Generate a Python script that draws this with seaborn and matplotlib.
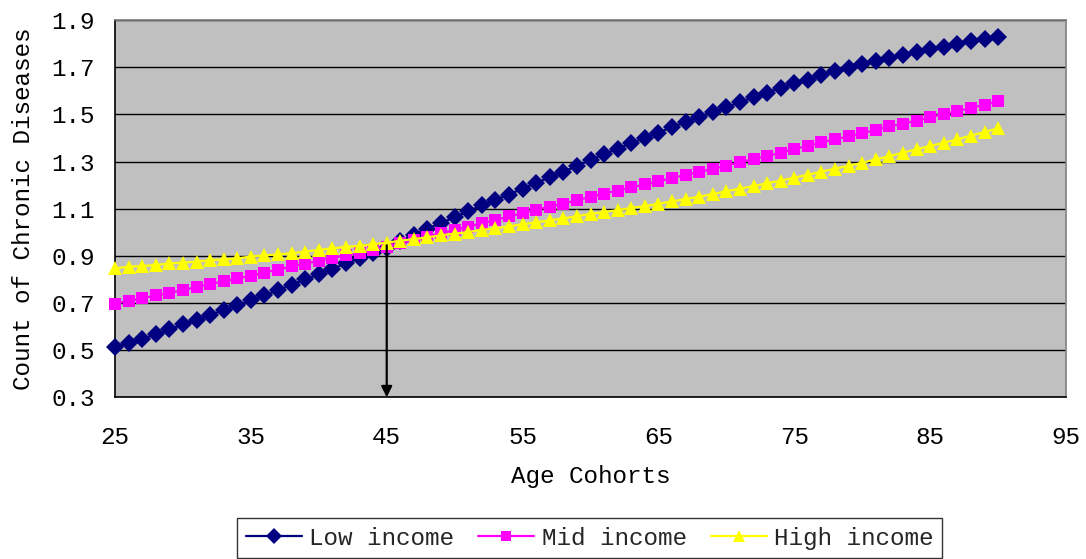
import matplotlib
matplotlib.use("Agg")
import matplotlib.pyplot as plt
import seaborn as sns
import pandas as pd
from matplotlib.lines import Line2D

ages = list(range(25, 91))
low_income = [0.512, 0.529, 0.548, 0.567, 0.588, 0.609, 0.629, 0.649, 0.670, 0.690,
              0.711, 0.733, 0.755, 0.777, 0.800, 0.822, 0.845, 0.868, 0.890, 0.912,
              0.935, 0.962, 0.990, 1.015, 1.040, 1.063, 1.090, 1.114, 1.137, 1.160,
              1.185, 1.210, 1.233, 1.257, 1.281, 1.307, 1.331, 1.355, 1.378, 1.401,
              1.423, 1.446, 1.468, 1.490, 1.509, 1.530, 1.552, 1.573, 1.592, 1.613,
              1.632, 1.648, 1.666, 1.683, 1.698, 1.713, 1.728, 1.741, 1.753, 1.766,
              1.778, 1.788, 1.799, 1.810, 1.820, 1.827]
mid_income = [0.697, 0.709, 0.720, 0.732, 0.743, 0.755, 0.767, 0.780, 0.792, 0.804,
              0.816, 0.829, 0.842, 0.855, 0.867, 0.879, 0.891, 0.902, 0.914, 0.926,
              0.938, 0.953, 0.967, 0.982, 0.996, 1.010, 1.024, 1.038, 1.052, 1.067,
              1.081, 1.095, 1.109, 1.122, 1.136, 1.150, 1.164, 1.177, 1.190, 1.203,
              1.216, 1.230, 1.243, 1.256, 1.269, 1.283, 1.297, 1.311, 1.324, 1.338,
              1.353, 1.367, 1.381, 1.395, 1.407, 1.420, 1.435, 1.449, 1.461, 1.474,
              1.488, 1.502, 1.514, 1.527, 1.542, 1.556]
high_income = [0.847, 0.854, 0.857, 0.861, 0.868, 0.871, 0.875, 0.882, 0.885, 0.889,
               0.897, 0.902, 0.906, 0.911, 0.918, 0.925, 0.932, 0.938, 0.942, 0.949,
               0.956, 0.964, 0.971, 0.979, 0.987, 0.994, 1.001, 1.010, 1.017, 1.025,
               1.034, 1.042, 1.051, 1.059, 1.068, 1.078, 1.086, 1.094, 1.103, 1.111,
               1.121, 1.131, 1.141, 1.151, 1.162, 1.174, 1.185, 1.196, 1.208, 1.219,
               1.232, 1.244, 1.257, 1.270, 1.282, 1.295, 1.309, 1.323, 1.338, 1.352,
               1.366, 1.380, 1.394, 1.410, 1.425, 1.441]
series_names = ["Low income", "Mid income", "High income"]
colors = ["#000080", "#FF00FF", "#FFFF00"]
marker_shapes = ["D", "s", "^"]
x_ticks = [25, 35, 45, 55, 65, 75, 85, 95]
y_ticks = [0.3, 0.5, 0.7, 0.9, 1.1, 1.3, 1.5, 1.7, 1.9]
x_label = "Age Cohorts"
y_label = "Count of Chronic Diseases"
arrow_age = 45
arrow_top = 0.945

sns.set_style("white")
plt.rcParams['font.family'] = ['Liberation Mono', 'DejaVu Sans']

df = pd.DataFrame({
    "age": ages * 3,
    "value": low_income + mid_income + high_income,
    "group": [series_names[0]] * len(ages) + [series_names[1]] * len(ages) + [series_names[2]] * len(ages),
})

fig = plt.figure(figsize=(10.86, 5.59), dpi=100)
ax = fig.add_axes([0.1059, 0.2893, 0.8757, 0.6747])
ax.set_facecolor("#C0C0C0")

msizes = {"D": 9.5, "s": 8.5, "^": 10.5}
for name, col, mk in zip(series_names, colors, marker_shapes):
    sub = df[df["group"] == name]
    sns.lineplot(data=sub, x="age", y="value", ax=ax, color=col, marker=mk,
                 markersize=msizes[mk], markeredgewidth=0, linewidth=1.6,
                 label=None, legend=False, zorder=3, clip_on=False)

ax.set_xlim(25, 95)
ax.set_ylim(0.3, 1.9)
ax.set_xticks(x_ticks)
ax.set_yticks(y_ticks)
ax.set_yticklabels([f"{v:.1f}" for v in y_ticks])
ax.grid(axis="y", color="black", linewidth=1.0, zorder=1)
ax.grid(axis="x", visible=False)
ax.set_axisbelow(True)

ax.tick_params(axis="both", direction="inout", length=13, width=1, color="black",
               labelsize=17.5, labelcolor="black")
ax.tick_params(axis="x", pad=14)
ax.tick_params(axis="y", pad=8)
for s in ["left", "bottom"]:
    ax.spines[s].set_color("black")
    ax.spines[s].set_linewidth(1.2)
for s in ["top", "right"]:
    ax.spines[s].set_color("#808080")
    ax.spines[s].set_linewidth(1.2)

ax.set_xlabel(x_label, fontsize=17.5, labelpad=12, color="black")
ax.set_ylabel(y_label, fontsize=17.5, labelpad=12, color="black")

ax.annotate("", xy=(arrow_age, 0.3), xytext=(arrow_age, arrow_top),
            arrowprops=dict(arrowstyle="-|>", color="black", lw=1.6,
                            mutation_scale=16, shrinkA=0, shrinkB=0),
            zorder=5, annotation_clip=False)

handles = [Line2D([0], [0], color=c, marker=m, markersize=msizes[m] * 0.85,
                  markeredgewidth=0, linewidth=1.6)
           for c, m in zip(colors, marker_shapes)]
leg = fig.legend(handles, series_names, loc="upper center",
                 bbox_to_anchor=(0.543, 0.0745 + 0.02), ncol=3, frameon=True,
                 fontsize=17.5, handlelength=2.3, handletextpad=0.3,
                 columnspacing=1.0, borderpad=0.35, fancybox=False)
leg.get_frame().set_edgecolor("black")
leg.get_frame().set_linewidth(1.0)
leg.get_frame().set_facecolor("white")

fig.savefig("out.png", dpi=100)
